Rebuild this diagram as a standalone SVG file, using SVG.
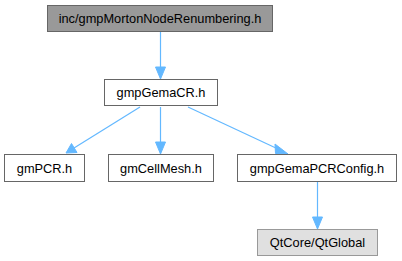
<svg xmlns="http://www.w3.org/2000/svg" width="402" height="261" viewBox="0 0 402 261">
<defs>
<style>
.n rect{fill:#fff;stroke:#666;stroke-width:1}
.n text{font-family:"Liberation Sans",Arial,sans-serif;font-size:12.8px;fill:#000;text-anchor:middle}
#n0 rect{fill:#999;stroke:#666}
#n6 rect{fill:#e0e0e0;stroke:#999}
.e line{stroke:#63b8ff;stroke-width:1.2;fill:none}
.e path{fill:#63b8ff;stroke:#63b8ff}
</style>
</defs>
<rect width="402" height="261" fill="#fff"/>
<g id="edges" class="e">
<line x1="160.5" y1="31" x2="160.5" y2="68"/>
<path d="M155.5,67 L160.5,79 L165.5,67 Z"/>
<line x1="140" y1="107" x2="74" y2="148"/>
<path d="M71.5,143.5 L66,153 L77,152.5 Z"/>
<line x1="160.5" y1="107" x2="160.5" y2="142"/>
<path d="M155.5,142 L160.5,154 L165.5,142 Z"/>
<line x1="188" y1="107" x2="278" y2="149"/>
<path d="M275,144 L288,154 L275.5,153.5 Z"/>
<line x1="317.5" y1="182" x2="317.5" y2="218"/>
<path d="M312.5,217 L317.5,229 L322.5,217 Z"/>
</g>
<g id="n0" class="n"><rect x="47.5" y="5.5" width="225" height="26"/><text x="160" y="23">inc/gmpMortonNodeRenumbering.h</text></g>
<g id="n1" class="n"><rect x="104.5" y="79.5" width="113" height="26"/><text x="161" y="97">gmpGemaCR.h</text></g>
<g id="n2" class="n"><rect x="4.5" y="154.5" width="80" height="27"/><text x="44.5" y="172.5">gmPCR.h</text></g>
<g id="n3" class="n"><rect x="108.5" y="154.5" width="105" height="27"/><text x="161" y="172.5">gmCellMesh.h</text></g>
<g id="n4" class="n"><rect x="237.5" y="154.5" width="159" height="27"/><text x="317" y="172.5">gmpGemaPCRConfig.h</text></g>
<g id="n6" class="n"><rect x="257.5" y="229.5" width="120" height="26"/><text x="317.5" y="247">QtCore/QtGlobal</text></g>
</svg>
